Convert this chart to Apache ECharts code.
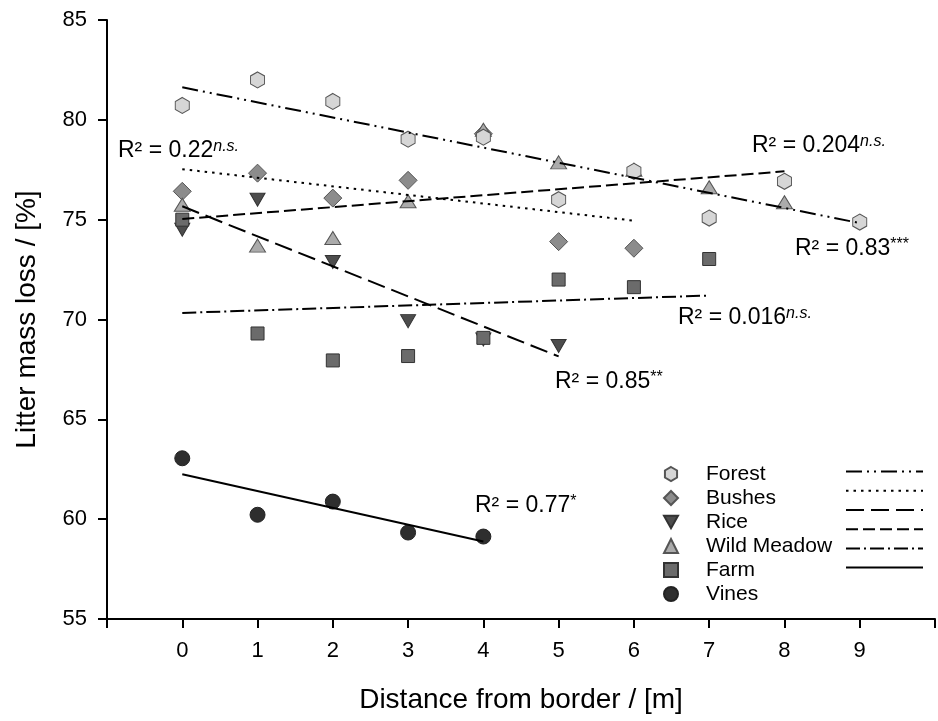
<!DOCTYPE html>
<html><head><meta charset="utf-8">
<script src="https://cdn.jsdelivr.net/npm/echarts@6/dist/echarts.min.js"></script>
<style>html,body{margin:0;padding:0;background:#fff}#c{width:938px;height:721px}</style>
</head><body><div id="c"></div><script>
// ---- data ----
const distances = [0, 1, 2, 3, 4, 5, 6, 7, 8, 9];
const forest = [80.72, 82.0, 80.92, 79.03, 79.13, 76.0, 77.42, 75.08, 76.92, 74.88];
const bushes = [76.42, 77.33, 76.08, 76.97, 79.3, 73.9, 73.57];
const rice = [74.5, 76.0, 72.88, 69.92, 69.0, 68.67];
const wildMeadow = [75.75, 73.7, 74.08, 75.92, 79.5, 77.87, 77.5, 76.62, 75.87];
const farm = [75.0, 69.3, 67.95, 68.17, 69.08, 72.0, 71.62, 73.03];
const vines = [63.05, 60.22, 60.88, 59.33, 59.13];
// regression line end points: [xStart, yStart, xEnd, yEnd]
const forestFit = [0, 81.63, 9, 74.83];
const bushesFit = [0, 77.53, 6, 74.95];
const riceFit = [0, 75.67, 5, 68.15];
const wildMeadowFit = [0, 75.03, 8, 77.42];
const farmFit = [0, 70.33, 7, 71.2];
const vinesFit = [0, 62.25, 4, 58.88];
const legendNames = ['Forest', 'Bushes', 'Rice', 'Wild Meadow', 'Farm', 'Vines'];
const r2Labels = ['R² = 0.22', 'R² = 0.204', 'R² = 0.83', 'R² = 0.016', 'R² = 0.85', 'R² = 0.77'];
const r2Marks = ['n.s.', 'n.s.', '***', 'n.s.', '**', '*'];
const xTickLabels = ['0', '1', '2', '3', '4', '5', '6', '7', '8', '9'];
const yTickLabels = ['55', '60', '65', '70', '75', '80', '85'];

// ---- build ----
const FONT = 'Liberation Sans, Arial, sans-serif';
const pts = arr => arr.map((v, i) => [distances[i], v]);
const fit = f => [[f[0], f[1]], [f[2], f[3]]];
const HEX = 'path://M0,0 L8.66,5 L8.66,15 L0,20 L-8.66,15 L-8.66,5 Z';
const TRI_DOWN = 'path://M0,0 L10,0 L5,9 Z';

function scatter(name, arr, symbol, size, fill, border) {
  return { name, type: 'scatter', data: pts(arr), symbol, symbolSize: size,
    symbolKeepAspect: false,
    itemStyle: { color: fill, borderColor: border, borderWidth: 1, opacity: 1 },
    emphasis: { disabled: true }, z: 2 };
}
function fitLine(name, f, dash) {
  return { name, type: 'line', data: fit(f), symbol: 'none', showSymbol: false,
    lineStyle: { color: '#000', width: 2, type: dash },
    itemStyle: { color: 'rgba(0,0,0,0)', borderWidth: 0 },
    emphasis: { disabled: true }, z: 5, silent: true };
}

const series = [
  scatter('Bushes', bushes, 'diamond', [18, 18], '#8c8c8c', '#555'),
  scatter('Rice', rice, TRI_DOWN, [15, 13], '#4d4d4d', '#333'),
  scatter('Wild Meadow', wildMeadow, 'triangle', [16, 13], '#ababab', '#555'),
  scatter('Forest', forest, HEX, [14, 16], '#d6d6d6', '#555'),
  scatter('Farm', farm, 'rect', [13, 13], '#6b6b6b', '#333'),
  scatter('Vines', vines, 'circle', 15, '#2e2e2e', '#222'),
  fitLine('Forest fit', forestFit, [16, 5, 2, 5, 2, 5]),
  fitLine('Bushes fit', bushesFit, [2.5, 5]),
  fitLine('Rice fit', riceFit, [18, 7]),
  fitLine('Wild Meadow fit', wildMeadowFit, [12, 5]),
  fitLine('Farm fit', farmFit, [14, 4, 2, 4]),
  fitLine('Vines fit', vinesFit, 'solid')
];

const annoPos = [[118, 139], [752, 134], [795, 237], [678, 306], [555, 370], [475, 494]];
const graphics = r2Labels.map((t, i) => ({
  type: 'text', left: annoPos[i][0], top: annoPos[i][1], z: 10,
  style: {
    text: '{a|' + t + '}{s|' + r2Marks[i] + '}',
    rich: {
      a: { fontSize: 23, fontFamily: FONT, fill: '#000', lineHeight: 23 },
      s: { fontSize: 16, fontFamily: FONT, fill: '#000', verticalAlign: 'top', lineHeight: 16,
           fontStyle: r2Marks[i] === 'n.s.' ? 'italic' : 'normal' }
    }
  }
}));

const option = {
  animation: false,
  backgroundColor: '#fff',
  grid: { left: 107, right: -2, top: 20, bottom: 102, containLabel: false },
  xAxis: {
    type: 'value', min: -1, max: 10, interval: 1,
    name: 'Distance from border / [m]', nameLocation: 'middle', nameGap: 67,
    nameTextStyle: { fontSize: 28, fontFamily: FONT, color: '#000' },
    axisLine: { onZero: false, lineStyle: { color: '#000', width: 2 } },
    axisTick: { inside: false, length: 9, lineStyle: { color: '#000', width: 2 } },
    axisLabel: { margin: 21, fontSize: 22, fontFamily: FONT, color: '#000',
      formatter: v => (v >= 0 && v <= 9) ? xTickLabels[v] : '' },
    splitLine: { show: false }
  },
  yAxis: {
    type: 'value', min: 55, max: 85, interval: 5,
    name: 'Litter mass loss / [%]', nameLocation: 'middle', nameGap: 66,
    nameTextStyle: { fontSize: 28, fontFamily: FONT, color: '#000' },
    axisLine: { show: true, onZero: false, lineStyle: { color: '#000', width: 2 } },
    axisTick: { show: true, inside: false, length: 9, lineStyle: { color: '#000', width: 2 } },
    axisLabel: { margin: 20, fontSize: 22, fontFamily: FONT, color: '#000',
      formatter: v => yTickLabels[(v - 55) / 5] },
    splitLine: { show: false }
  },
  legend: [
    { data: legendNames, orient: 'vertical', left: 663, top: 462, padding: 0,
      itemWidth: 14, itemHeight: 14, itemGap: 0, selectedMode: false,
      textStyle: { fontSize: 21, fontFamily: FONT, color: '#000', lineHeight: 24, padding: [0, 0, 0, 23] } },
    { data: legendNames.map(n => n + ' fit'), orient: 'vertical', left: 845, top: 462, padding: 0,
      itemWidth: 77, itemHeight: 24, itemGap: 0, selectedMode: false,
      itemStyle: { color: 'rgba(0,0,0,0)', borderColor: 'rgba(0,0,0,0)', borderWidth: 0, opacity: 0 },
      formatter: () => '',
      textStyle: { fontSize: 21, lineHeight: 24 } }
  ],
  graphic: graphics,
  series
};
const chart = echarts.init(document.getElementById('c'), null, { renderer: 'canvas' });
chart.setOption(option);
</script></body></html>
